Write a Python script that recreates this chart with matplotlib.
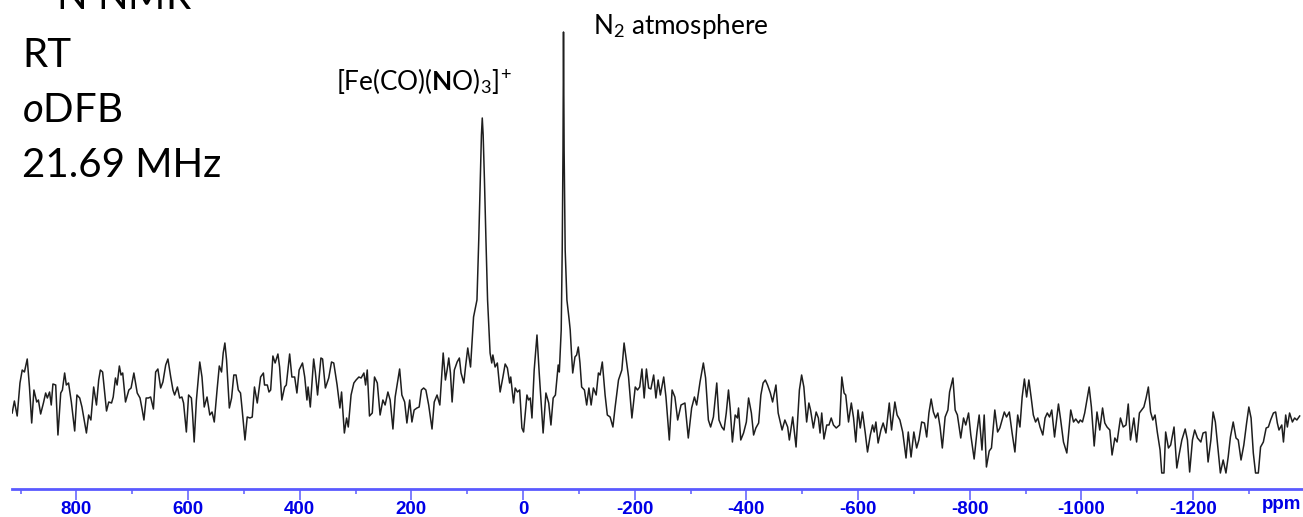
import matplotlib
matplotlib.use("Agg")
import matplotlib.pyplot as plt
from matplotlib.ticker import MultipleLocator

plt.rcParams['mathtext.fontset'] = 'custom'
plt.rcParams['mathtext.rm'] = 'Lato'
plt.rcParams['mathtext.it'] = 'Lato:italic'
plt.rcParams['mathtext.bf'] = 'Lato:bold'
plt.rcParams['axes.unicode_minus'] = False

# 14N spectrum, chemical shift (ppm) and intensity (arb. units)
shift_ppm = [
    915, 911, 906, 901, 897, 893, 888, 884, 880, 876,
    871, 868, 864, 859, 855, 852, 848, 845, 842, 837,
    833, 828, 825, 821, 818, 814, 809, 803, 799, 794,
    790, 786, 782, 778, 774, 769, 764, 760, 757, 753,
    746, 742, 737, 734, 730, 727, 723, 720, 717, 712,
    706, 702, 697, 691, 686, 682, 679, 675, 671, 667,
    662, 658, 654, 649, 645, 640, 636, 631, 627, 624,
    619, 615, 611, 608, 603, 599, 594, 592, 589, 585,
    579, 575, 571, 566, 561, 557, 553, 548, 544, 540,
    537, 534, 531, 526, 522, 518, 514, 510, 506, 503,
    498, 494, 489, 485, 481, 476, 470, 465, 463, 458,
    455, 452, 448, 444, 439, 436, 432, 427, 424, 418,
    414, 409, 405, 401, 395, 391, 387, 385, 381, 375,
    372, 368, 362, 359, 354, 348, 343, 339, 333, 328,
    325, 320, 316, 313, 308, 303, 299, 294, 290, 285,
    282, 279, 275, 270, 266, 261, 256, 251, 247, 242,
    238, 233, 229, 225, 221, 217, 212, 208, 203, 199,
    195, 190, 186, 182, 178, 174, 169, 163, 159, 154,
    149, 143, 139, 136, 133, 130, 127, 123, 118, 114,
    111, 106, 103, 99, 94, 90, 88.6, 82.5, 79.3, 76.6,
    74.5, 73, 71.4, 69.1, 66.4, 63.5, 61, 59, 56, 54,
    50, 46, 41, 36, 32, 28, 24, 22, 17, 14,
    10, 6, 2, -1, -7, -10, -13, -16, -20, -25,
    -29, -36, -41, -46, -50, -54, -58, -63, -65, -68.4,
    -70.2, -71.6, -72.5, -73.6, -75.5, -78.6, -82.7, -84.5, -87, -89,
    -93, -96, -99, -102, -105, -110, -114, -118, -122, -126,
    -131, -135, -138, -142, -147, -151, -156, -161, -165, -171,
    -177, -181, -185, -189, -195, -201, -205, -209, -213, -217,
    -221, -225, -229, -234, -238, -242, -246, -252, -256, -262,
    -267, -272, -277, -283, -290, -296, -302, -307, -311, -317,
    -323, -327, -332, -336, -341, -347, -351, -356, -360, -364,
    -368, -371, -375, -380, -384, -386, -390, -395, -400, -404,
    -409, -413, -417, -422, -426, -430, -434, -438, -443, -447,
    -453, -457, -464, -469, -474, -477, -483, -489, -495, -499,
    -503, -508, -512, -515, -520, -525, -529, -532, -535, -539,
    -544, -548, -552, -556, -561, -567, -571, -575, -578, -583,
    -588, -592, -596, -600, -604, -608, -613, -617, -622, -626,
    -629, -632, -636, -641, -645, -650, -656, -660, -666, -670,
    -675, -680, -686, -690, -695, -700, -705, -709, -714, -719,
    -723, -727, -731, -735, -739, -743, -747, -751, -756, -761,
    -764, -767, -770, -774, -778, -784, -789, -793, -798, -802,
    -808, -813, -817, -822, -826, -830, -835, -839, -845, -850,
    -854, -858, -862, -866, -871, -876, -881, -886, -890, -894,
    -898, -902, -906, -910, -914, -918, -922, -926, -931, -935,
    -939, -943, -947, -952, -959, -963, -968, -974, -981, -986,
    -990, -995, -998, -1002, -1006, -1011, -1014, -1018, -1023, -1028,
    -1033, -1038, -1042, -1046, -1051, -1055, -1060, -1064, -1070, -1075,
    -1080, -1084, -1088, -1094, -1099, -1104, -1108, -1112, -1116, -1120,
    -1124, -1128, -1132, -1136, -1141, -1144, -1148, -1151, -1156, -1160,
    -1166, -1171, -1175, -1180, -1186, -1190, -1194, -1199, -1203, -1208,
    -1214, -1218, -1223, -1227, -1232, -1236, -1240, -1245, -1249, -1254,
    -1259, -1263, -1267, -1272, -1277, -1281, -1286, -1291, -1296, -1300,
    -1304, -1308, -1312, -1317, -1321, -1326, -1331, -1335, -1339, -1344,
    -1348, -1351, -1354, -1359, -1362, -1366, -1369, -1373, -1378, -1382,
    -1386, -1391,
]
intensity = [
    27, 39, 24, 57, 70, 68, 81, 53, 17, 50,
    38, 40, 26, 37, 47, 42, 48, 35, 56, 55,
    5, 47, 50, 67, 55, 57, 38, 9, 45, 42,
    33, 20, 7, 25, 20, 53, 35, 60, 70, 68,
    29, 38, 37, 43, 62, 55, 74, 65, 67, 38,
    50, 52, 67, 47, 42, 30, 20, 42, 42, 43,
    31, 68, 71, 52, 58, 75, 81, 63, 50, 45,
    53, 42, 43, 37, 8, 45, 42, 27, -2, 40,
    78, 63, 33, 43, 25, 28, 18, 50, 74, 68,
    87, 97, 80, 32, 42, 65, 65, 50, 47, 30,
    0, 23, 22, 23, 53, 37, 63, 67, 55, 55,
    48, 50, 84, 77, 86, 73, 40, 53, 55, 86,
    63, 63, 47, 70, 77, 63, 40, 53, 33, 81,
    68, 45, 82, 81, 52, 62, 78, 77, 55, 32,
    48, 7, 22, 13, 45, 57, 60, 63, 62, 67,
    55, 70, 24, 27, 63, 57, 25, 40, 35, 48,
    40, 11, 43, 57, 71, 45, 38, 17, 40, 18,
    30, 32, 33, 50, 52, 50, 35, 11, 38, 45,
    35, 87, 60, 70, 82, 67, 38, 70, 78, 82,
    67, 57, 73, 92, 73, 110, 123, 140, 200, 260,
    305, 322, 305, 260, 200, 140, 110, 87, 77, 85,
    73, 77, 48, 63, 76, 72, 57, 63, 37, 52,
    48, 50, 12, 8, 45, 40, 42, 22, 70, 105,
    67, 7, 47, 37, 15, 42, 45, 75, 68, 110,
    190, 290, 408, 290, 190, 140, 120, 110, 85, 67,
    83, 85, 93, 77, 53, 50, 35, 52, 35, 52,
    45, 67, 65, 78, 45, 25, 23, 13, 33, 60,
    70, 97, 80, 63, 22, 53, 50, 53, 71, 42,
    71, 52, 51, 65, 42, 60, 45, 63, 43, 0,
    50, 43, 20, 35, 37, 2, 32, 43, 35, 58,
    77, 62, 20, 13, 23, 57, 20, 13, 10, 27,
    50, 32, -2, 25, 22, 32, 0, 7, 18, 42,
    27, 5, 12, 17, 45, 57, 60, 55, 47, 38,
    55, 27, 10, 20, 13, 0, 23, -7, 50, 65,
    53, 18, 37, 30, 12, 28, 22, 7, 27, 1,
    15, 15, 22, 15, 12, 15, 63, 47, 45, 18,
    37, 22, -2, 30, 12, 28, 7, -12, 5, 15,
    8, 18, -3, 10, 17, 7, 37, 10, 38, 25,
    20, 8, -18, 8, -17, 8, -8, 0, 18, 17,
    3, 27, 41, 28, 22, 27, 13, -8, 23, 30,
    48, 55, 62, 30, 25, 2, 22, 15, 27, 5,
    -19, 8, 25, -10, 25, -27, -11, -8, 30, 8,
    12, 20, 28, 23, 28, 7, -12, 25, 13, 43,
    61, 43, 60, 43, 25, 18, 22, 13, 5, 22,
    27, 23, 30, 3, 36, 20, -2, -13, 30, 18,
    21, 17, 20, 18, 27, 43, 53, 33, -6, 28,
    10, 32, 17, 13, 10, -15, 2, -2, 22, 13,
    15, 36, 0, 22, -2, 27, 30, 33, 42, 53,
    28, 20, 25, 8, -10, -33, -33, 8, -8, -5,
    13, -28, -15, 0, 11, 0, -32, 0, 10, 2,
    -2, 7, 8, -22, 0, 28, 18, -10, -33, -20,
    -33, -17, 3, 18, 2, 0, -20, -5, 17, 33,
    22, -13, -33, -33, -7, -2, 12, 13, 20, 27,
    28, 17, 10, 15, -2, 25, 13, 27, 18, 22,
    20, 24,
]

major_step = 200
minor_step = 100
conditions = [r'RT', r'$\mathit{o}$DFB', r'21.69 MHz']

W, H = 1303, 517
fig = plt.figure(figsize=(W / 100, H / 100), dpi=100)
ax = fig.add_axes([11.6 / W, 28 / H, 1 - 11.6 / W, 1 - 28 / H])

ax.plot(shift_ppm, intensity, color='#1e1e1e', lw=1.1,
        solid_joinstyle='round')
ax.set_xlim(916, -1397)
ax.set_ylim(-49, 440)

axis_blue = '#5a5aff'
label_blue = '#0000e6'
for side in ['top', 'left', 'right']:
    ax.spines[side].set_visible(False)
ax.spines['bottom'].set_color(axis_blue)
ax.spines['bottom'].set_linewidth(2)

ax.xaxis.set_major_locator(MultipleLocator(major_step))
ax.xaxis.set_minor_locator(MultipleLocator(minor_step))
ax.tick_params(axis='x', which='major', direction='out', length=8, width=1.1,
               color=axis_blue, labelcolor=label_blue, pad=1)
ax.tick_params(axis='x', which='minor', direction='out', length=3.5,
               width=1.1, color=axis_blue)
ax.set_yticks([])
for lab in ax.get_xticklabels():
    lab.set_fontfamily('Liberation Sans')
    lab.set_fontweight('bold')
    lab.set_fontsize(13.5)

ax.text(0.9985, -0.015, 'ppm', transform=ax.transAxes, ha='right', va='top',
        color=label_blue, fontsize=13.5, fontweight='bold',
        family='Liberation Sans')


def px(x, y):
    return x / W, 1 - y / H


# sample / acquisition details, top left
fig.text(*px(22, 10), r'$^{14}$N NMR', fontsize=29, family='Lato',
         va='baseline')
for i, line in enumerate(conditions):
    fig.text(*px(22, 67 + 55 * i), line, fontsize=29, family='Lato',
             va='baseline')

# peak assignments
fig.text(*px(336, 90), r'[Fe(CO)($\mathbf{N}$O)$_3$]$^{\!+}$', fontsize=18.8,
         family='Lato', va='baseline')
fig.text(*px(593, 34), r'N$_2$ atmosphere', fontsize=18.8, family='Lato',
         va='baseline')

fig.savefig('out.png', dpi=100)
